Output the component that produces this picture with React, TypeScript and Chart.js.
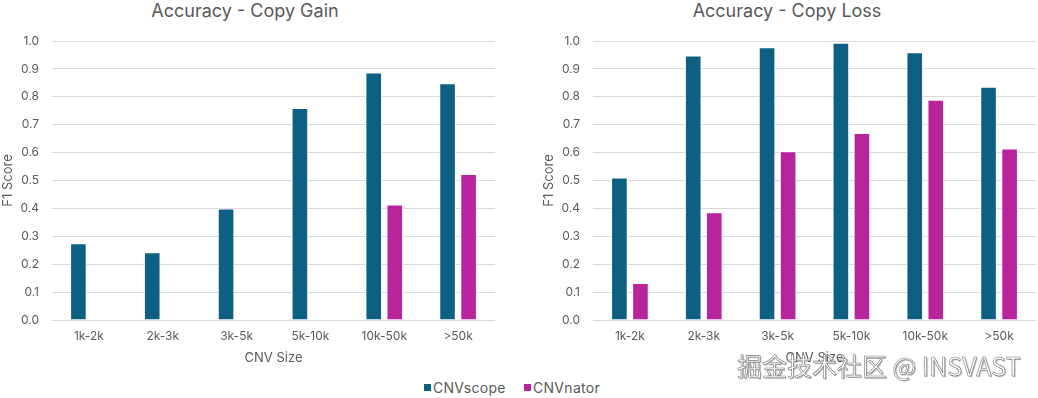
import React, { useEffect, useRef } from "react";
import { Chart, registerables } from "chart.js";

Chart.register(...registerables);

const categories = ["1k-2k", "2k-3k", "3k-5k", "5k-10k", "10k-50k", ">50k"];
const gainCNVscope = [0.275, 0.243, 0.4, 0.76, 0.887, 0.849];
const gainCNVnator: (number | null)[] = [null, null, null, null, 0.414, 0.523];
const lossCNVscope = [0.511, 0.948, 0.978, 0.994, 0.96, 0.836];
const lossCNVnator = [0.133, 0.386, 0.605, 0.67, 0.789, 0.615];
const yTicks = [0, 0.1, 0.2, 0.3, 0.4, 0.5, 0.6, 0.7, 0.8, 0.9, 1.0];

const seriesNames = ["CNVscope", "CNVnator"];
const seriesColors = ["#0e6083", "#b8249c"];
const TEXT = "#595959";
const GRID = "#d9d9d9";
const FONT = "Inter, 'Noto Sans', sans-serif";

function makeConfig(a: (number | null)[], b: (number | null)[], padRight: number): any {
  return {
    type: "bar",
    data: {
      labels: categories,
      datasets: [
        {
          label: seriesNames[0],
          data: a,
          backgroundColor: seriesColors[0],
          borderColor: "#ffffff",
          borderWidth: 1,
          categoryPercentage: 0.57,
          barPercentage: 0.79,
        },
        {
          label: seriesNames[1],
          data: b,
          backgroundColor: seriesColors[1],
          borderColor: "#ffffff",
          borderWidth: 1,
          categoryPercentage: 0.57,
          barPercentage: 0.79,
        },
      ],
    },
    options: {
      responsive: false,
      animation: false,
      layout: { padding: { top: 21, right: padRight, bottom: 0, left: 0 } },
      plugins: { legend: { display: false }, title: { display: false }, tooltip: { enabled: false } },
      scales: {
        x: {
          grid: { display: false, drawTicks: false },
          border: { display: false },
          ticks: { color: TEXT, font: { family: FONT, size: 12 }, padding: 9.5 },
          title: {
            display: true,
            text: "CNV Size",
            color: TEXT,
            font: { family: FONT, size: 13 },
            padding: { top: 6, bottom: 0 },
          },
          afterFit: (s: any) => {
            s.height = 46;
          },
        },
        y: {
          min: 0,
          max: 1,
          afterBuildTicks: (s: any) => {
            s.ticks = yTicks.map((v) => ({ value: v }));
          },
          grid: { color: GRID, lineWidth: 1, drawTicks: false },
          border: { display: false },
          ticks: {
            color: TEXT,
            font: { family: FONT, size: 12 },
            padding: 13,
            callback: (v: any) => Number(v).toFixed(1),
          },
          title: {
            display: true,
            text: "F1 Score",
            color: TEXT,
            font: { family: FONT, size: 13 },
            padding: { top: 0, bottom: 0 },
          },
          afterFit: (s: any) => {
            s.width = 52;
          },
        },
      },
    },
  };
}

function BarChart(props: { a: (number | null)[]; b: (number | null)[]; padRight: number; width: number; height: number; left: number; top: number }) {
  const ref = useRef<HTMLCanvasElement | null>(null);
  useEffect(() => {
    if (!ref.current) return;
    const chart = new Chart(ref.current, makeConfig(props.a, props.b, props.padRight));
    return () => chart.destroy();
  }, []);
  return (
    <canvas
      ref={ref}
      width={props.width}
      height={props.height}
      style={{ position: "absolute", left: props.left, top: props.top, width: props.width, height: props.height }}
    />
  );
}

const titleStyle: React.CSSProperties = {
  position: "absolute",
  top: 0,
  transform: "translateX(-50%)",
  whiteSpace: "nowrap",
  fontFamily: FONT,
  fontSize: 18,
  lineHeight: "22px",
  color: TEXT,
};

export default function App() {
  return (
    <div style={{ position: "absolute", left: 0, top: 0, width: 1038, height: 398, background: "#ffffff", overflow: "hidden" }}>
      <div style={{ ...titleStyle, left: 245 }}>Accuracy - Copy Gain</div>
      <div style={{ ...titleStyle, left: 787 }}>Accuracy - Copy Loss</div>
      <BarChart a={gainCNVscope} b={gainCNVnator} padRight={23} width={518} height={346} left={0} top={20} />
      <BarChart a={lossCNVscope} b={lossCNVnator} padRight={2} width={497} height={346} left={541} top={20} />
      {seriesNames.map((name, i) => (
        <div
          key={name}
          style={{
            position: "absolute",
            left: i === 0 ? 424 : 524,
            top: 379,
            display: "flex",
            alignItems: "center",
            fontFamily: FONT,
            fontSize: 14,
            letterSpacing: "0.3px",
            lineHeight: "17px",
            color: TEXT,
            whiteSpace: "nowrap",
          }}
        >
          <span style={{ display: "inline-block", width: 7, height: 7, background: seriesColors[i], marginRight: 2 }} />
          {name}
        </div>
      ))}
      <div
        style={{
          position: "absolute",
          left: 737,
          top: 351,
          fontFamily: "'Noto Sans CJK SC', 'Noto Sans', sans-serif",
          fontSize: 25,
          lineHeight: "29px",
          color: "#ffffff",
          whiteSpace: "nowrap",
          WebkitTextStroke: "0.6px #7a7a7a",
          textShadow: "1px 1px 1px rgba(0,0,0,0.35)",
        }}
      >
        掘金技术社区 @ INSVAST
      </div>
    </div>
  );
}
